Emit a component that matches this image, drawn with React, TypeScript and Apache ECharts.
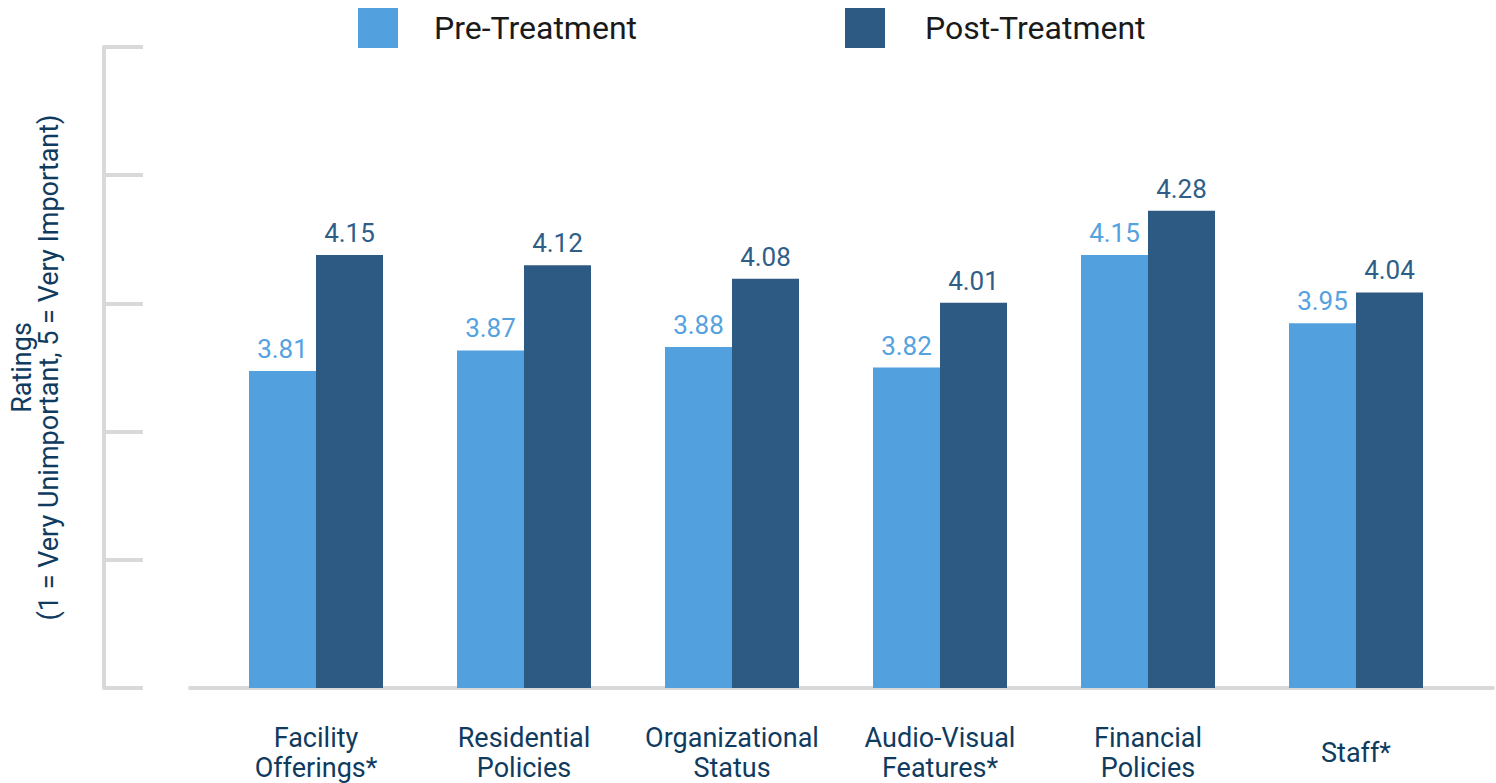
import React, { useEffect, useRef } from "react";
import * as echarts from "echarts";

const categories = [
  "Facility\nOfferings*",
  "Residential\nPolicies",
  "Organizational\nStatus",
  "Audio-Visual\nFeatures*",
  "Financial\nPolicies",
  "Staff*",
];
const seriesNames = ["Pre-Treatment", "Post-Treatment"];
const preValues = [3.81, 3.87, 3.88, 3.82, 4.15, 3.95];
const postValues = [4.15, 4.12, 4.08, 4.01, 4.28, 4.04];
const yAxisName = "Ratings\n(1 = Very Unimportant, 5 = Very Important)";

const PRE_COLOR = "#53A0DF";
const POST_COLOR = "#2C5A82";
const AXIS_COLOR = "#D9D9D9";
const TEXT_DARK = "#0F3B5F";
const FONT = "Roboto";

export default function App() {
  const ref = useRef<HTMLDivElement>(null);

  useEffect(() => {
    if (!ref.current) return;
    const chart = echarts.init(ref.current, undefined, { renderer: "svg" });
    const option: any = {
      animation: false,
      backgroundColor: "#ffffff",
      textStyle: { fontFamily: FONT },
      legend: [
        {
          data: [seriesNames[0]],
          left: 358,
          top: 8,
          padding: 0,
          icon: "rect",
          itemWidth: 40,
          itemHeight: 40,
          textStyle: { fontSize: 32, color: "#1A1A1A", fontFamily: FONT, padding: [0, 0, 0, 31] },
        },
        {
          data: [seriesNames[1]],
          left: 845,
          top: 8,
          padding: 0,
          icon: "rect",
          itemWidth: 40,
          itemHeight: 40,
          textStyle: { fontSize: 32, color: "#1A1A1A", fontFamily: FONT, padding: [0, 0, 0, 35] },
        },
      ],
      grid: [
        { left: 212, width: 1248, top: 47, height: 641, containLabel: false },
        { left: 104, width: 100, top: 47, height: 641, containLabel: false },
        { left: 190, right: 3, top: 47, height: 641, containLabel: false },
      ],
      xAxis: [
        {
          type: "category",
          gridIndex: 0,
          data: categories,
          axisLine: { show: false },
          axisTick: { show: false },
          axisLabel: {
            fontSize: 27,
            lineHeight: 30,
            color: TEXT_DARK,
            fontFamily: FONT,
            margin: 65,
            verticalAlign: "middle",
            align: "center",
            interval: 0,
          },
        },
        { type: "value", gridIndex: 1, min: 0, max: 1, show: false },
        {
          type: "value",
          gridIndex: 2,
          min: 0,
          max: 1,
          axisLine: { show: true, onZero: false, lineStyle: { color: AXIS_COLOR, width: 4 } },
          axisTick: { show: false },
          axisLabel: { show: false },
          splitLine: { show: false },
        },
      ],
      yAxis: [
        {
          type: "value",
          gridIndex: 0,
          min: 2.88,
          max: 4.76,
          show: false,
        },
        {
          type: "value",
          gridIndex: 1,
          min: 0,
          max: 5,
          interval: 1,
          name: yAxisName,
          nameLocation: "middle",
          nameRotate: 90,
          nameGap: 42,
          nameTextStyle: { fontSize: 27, lineHeight: 27, color: TEXT_DARK, fontFamily: FONT, align: "center" },
          axisLine: { show: true, onZero: false, lineStyle: { color: AXIS_COLOR, width: 4 } },
          axisTick: { show: true, inside: true, length: 39, lineStyle: { color: AXIS_COLOR, width: 4 } },
          axisLabel: { show: false },
          splitLine: { show: false },
        },
        { type: "value", gridIndex: 2, show: false },
      ],
      series: [
        {
          name: seriesNames[0],
          type: "bar",
          xAxisIndex: 0,
          yAxisIndex: 0,
          data: preValues,
          barWidth: 67,
          barGap: "0%",
          itemStyle: { color: PRE_COLOR },
          label: {
            show: true,
            position: "top",
            distance: 9,
            fontSize: 26,
            color: "#55A2E0",
            fontFamily: FONT,
            formatter: (p: any) => p.value.toFixed(2),
          },
        },
        {
          name: seriesNames[1],
          type: "bar",
          xAxisIndex: 0,
          yAxisIndex: 0,
          data: postValues,
          barWidth: 67,
          barGap: "0%",
          itemStyle: { color: POST_COLOR },
          label: {
            show: true,
            position: "top",
            distance: 9,
            fontSize: 26,
            color: "#2F5E88",
            fontFamily: FONT,
            formatter: (p: any) => p.value.toFixed(2),
          },
        },
      ],
    };
    chart.setOption(option);
    return () => chart.dispose();
  }, []);

  return (
    <div
      ref={ref}
      style={{ position: "fixed", left: 0, top: 0, width: 1496, height: 783 }}
    />
  );
}
